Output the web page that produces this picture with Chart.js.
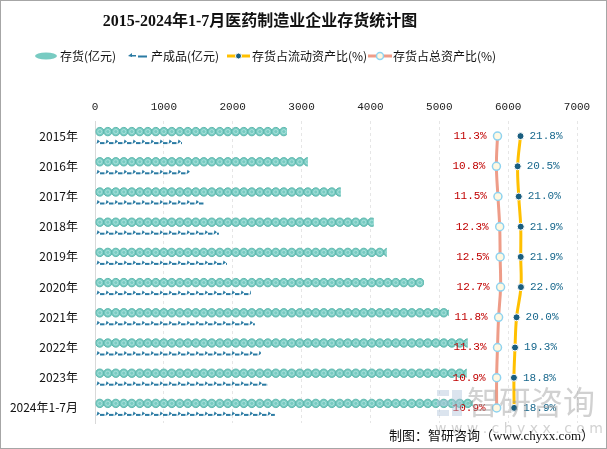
<!DOCTYPE html>
<html>
<head>
<meta charset="utf-8">
<script src="https://cdn.jsdelivr.net/npm/chart.js@4.4.1/dist/chart.umd.min.js"></script>
<style>
  html, body { margin: 0; padding: 0; background: #fff; }
  #wrap { width: 605px; height: 447px; border: 1px solid #a6a6a6; position: relative; }
</style>
</head>
<body>
<div id="wrap"><canvas id="chart"></canvas></div>
<script>
// ---------------------------------------------------------------- dados
const years = ["2015年", "2016年", "2017年", "2018年", "2019年", "2020年", "2021年", "2022年", "2023年", "2024年1-7月"];
const inventory = [2787, 3091, 3570, 4049, 4238, 4775, 5138, 5413, 5399, 5486];      // 存货(亿元)
const finished = [1263, 1379, 1582, 1800, 1916, 2264, 2322, 2409, 2511, 2612];       // 产成品(亿元)
const pctCurrent = [21.8, 20.5, 21.0, 21.9, 21.9, 22.0, 20.0, 19.3, 18.8, 18.9];     // 存货占流动资产比(%)
const pctTotal = [11.3, 10.8, 11.5, 12.3, 12.5, 12.7, 11.8, 11.3, 10.9, 10.9];       // 存货占总资产比(%)
const xTicks = [0, 1000, 2000, 3000, 4000, 5000, 6000, 7000];

const COLORS = {
  coin: "#78CBC2",
  coinEdge: "#5CB6AC",
  coinInner: "#A9E1DB",
  product: "#2B7BA3",
  yellow: "#FFC000",
  pink: "#EE9C88",
  dot: "#1A5E80",
  ring: "#8FD3F0",
  cream: "#FFF8E1",
  red: "#C00000",
  blue: "#17678C",
};

const FONT_CJK = '"Noto Sans CJK SC", "Noto Sans", sans-serif';

// --------------------------------------------------------------- desenho
function drawCoin(ctx, cx, cy, r) {
  ctx.beginPath();
  ctx.arc(cx, cy, r, 0, Math.PI * 2);
  ctx.fillStyle = COLORS.coin;
  ctx.fill();
  ctx.lineWidth = 1;
  ctx.strokeStyle = COLORS.coinEdge;
  ctx.stroke();
  ctx.beginPath();
  ctx.arc(cx, cy, r * 0.5, 0, Math.PI * 2);
  ctx.strokeStyle = COLORS.coinInner;
  ctx.stroke();
}

function drawProduct(ctx, x, y0) {
  ctx.fillStyle = COLORS.product;
  ctx.beginPath();
  ctx.moveTo(x, y0 + 4.5);
  ctx.lineTo(x + 1, y0);
  ctx.lineTo(x + 3.5, y0 + 2);
  ctx.closePath();
  ctx.fill();
  ctx.fillRect(x + 3.5, y0 + 2.5, 4.5, 2);
}

const pictorial = {
  id: "pictorial",
  afterDatasetsDraw(chart) {
    const ctx = chart.ctx;
    chart.getDatasetMeta(0).data.forEach((bar) => {
      const { x, y, base, height } = bar.getProps(["x", "y", "base", "height"], true);
      ctx.save();
      ctx.beginPath();
      ctx.rect(base, y - height / 2 - 1, x - base, height + 2);
      ctx.clip();
      for (let cx = base + 4.3; cx - 4.3 < x; cx += 8) drawCoin(ctx, cx, y, 4.2);
      ctx.restore();
    });
    chart.getDatasetMeta(1).data.forEach((bar) => {
      const { x, y, base, height } = bar.getProps(["x", "y", "base", "height"], true);
      const top = y - height / 2;
      ctx.save();
      ctx.beginPath();
      ctx.rect(base, top, x - base, height);
      ctx.clip();
      for (let px = base + 1; px < x; px += 9) drawProduct(ctx, px, top + 3.5);
      ctx.restore();
    });

    // rótulos das linhas
    ctx.save();
    ctx.font = '11px "Liberation Mono", monospace';
    ctx.textBaseline = "middle";
    chart.getDatasetMeta(2).data.forEach((pt, i) => {
      ctx.fillStyle = COLORS.blue;
      ctx.textAlign = "left";
      ctx.fillText(pctCurrent[i].toFixed(1) + "%", pt.x + 9, pt.y);
    });
    chart.getDatasetMeta(3).data.forEach((pt, i) => {
      ctx.fillStyle = COLORS.red;
      ctx.textAlign = "right";
      ctx.fillText(pctTotal[i].toFixed(1) + "%", pt.x - 11, pt.y);
    });
    ctx.restore();
  },
};

// título, legenda, marca d'água e rodapé
const header = {
  id: "header",
  afterDraw(chart) {
    const ctx = chart.ctx;
    ctx.save();
    ctx.fillStyle = "#111";
    ctx.textAlign = "center";
    ctx.textBaseline = "middle";
    ctx.font = 'bold 16px "Liberation Serif", ' + FONT_CJK;
    ctx.fillText("2015-2024年1-7月医药制造业企业存货统计图", 259, 21);

    // legenda
    const ly = 55;
    ctx.font = "12px " + FONT_CJK;
    ctx.textAlign = "left";
    // 存货
    ctx.beginPath();
    ctx.ellipse(45, ly, 11, 3.5, 0, 0, Math.PI * 2);
    ctx.fillStyle = COLORS.coin;
    ctx.fill();
    ctx.fillStyle = "#111";
    ctx.fillText("存货(亿元)", 59, ly);
    // 产成品
    ctx.fillStyle = COLORS.product;
    ctx.beginPath();
    ctx.moveTo(127, ly);
    ctx.lineTo(131, ly - 3);
    ctx.lineTo(131, ly + 1);
    ctx.closePath();
    ctx.fill();
    ctx.fillRect(130, ly - 1, 5, 1.5);
    ctx.fillRect(137, ly - 0.5, 9, 2);
    ctx.fillStyle = "#111";
    ctx.fillText("产成品(亿元)", 150, ly);
    // 存货占流动资产比
    ctx.strokeStyle = COLORS.yellow;
    ctx.lineWidth = 3;
    ctx.beginPath();
    ctx.moveTo(226, ly);
    ctx.lineTo(249, ly);
    ctx.stroke();
    ctx.beginPath();
    ctx.arc(237.5, ly, 3, 0, Math.PI * 2);
    ctx.fillStyle = COLORS.dot;
    ctx.fill();
    ctx.lineWidth = 1;
    ctx.strokeStyle = "#fff";
    ctx.stroke();
    ctx.fillStyle = "#111";
    ctx.fillText("存货占流动资产比(%)", 251, ly);
    // 存货占总资产比
    ctx.strokeStyle = COLORS.pink;
    ctx.lineWidth = 3;
    ctx.beginPath();
    ctx.moveTo(367, ly);
    ctx.lineTo(391, ly);
    ctx.stroke();
    ctx.beginPath();
    ctx.arc(379, ly, 3.5, 0, Math.PI * 2);
    ctx.fillStyle = COLORS.cream;
    ctx.fill();
    ctx.lineWidth = 1.5;
    ctx.strokeStyle = COLORS.ring;
    ctx.stroke();
    ctx.fillStyle = "#111";
    ctx.fillText("存货占总资产比(%)", 392, ly);

    // marca d'água
    ctx.globalAlpha = 0.45;
    ctx.fillStyle = "#AFC3D9";
    ctx.fillRect(436, 389, 12, 6);
    ctx.fillRect(436, 399, 12, 6);
    ctx.fillRect(436, 409, 12, 6);
    ctx.fillRect(451, 389, 10, 26);
    ctx.fillStyle = "#9a9a9a";
    ctx.font = "32px " + FONT_CJK;
    ctx.fillText("智研咨询", 466, 401);
    ctx.font = '14px "DejaVu Sans", sans-serif';
    ctx.fillText("w w w . c h y x x . c o m", 434, 428);
    ctx.globalAlpha = 1;

    // rodapé
    ctx.fillStyle = "#111";
    ctx.textAlign = "right";
    ctx.font = '13px "Liberation Serif", ' + FONT_CJK;
    ctx.fillText("制图：智研咨询（www.chyxx.com）", 593, 436);
    ctx.restore();
  },
};

// --------------------------------------------------------------- gráfico
new Chart(document.getElementById("chart"), {
  type: "bar",
  data: {
    labels: years,
    datasets: [
      { label: "存货(亿元)", data: inventory, backgroundColor: "rgba(0,0,0,0)", barThickness: 9, xAxisID: "x" },
      { label: "产成品(亿元)", data: finished, backgroundColor: "rgba(0,0,0,0)", barThickness: 9, xAxisID: "x" },
      {
        type: "line", label: "存货占流动资产比(%)", data: pctCurrent, indexAxis: "y", xAxisID: "x2",
        borderColor: COLORS.yellow, borderWidth: 3, tension: 0.4,
        pointRadius: 3.5, pointBackgroundColor: COLORS.dot, pointBorderColor: "#fff", pointBorderWidth: 1,
      },
      {
        type: "line", label: "存货占总资产比(%)", data: pctTotal, indexAxis: "y", xAxisID: "x2",
        borderColor: COLORS.pink, borderWidth: 3, tension: 0.4,
        pointRadius: 4, pointBackgroundColor: COLORS.cream, pointBorderColor: COLORS.ring, pointBorderWidth: 1.5,
      },
    ],
  },
  options: {
    indexAxis: "y",
    responsive: true, maintainAspectRatio: false, animation: false,
    layout: { padding: { top: 70, right: 29, bottom: 25, left: 0 } },
    plugins: { legend: { display: false }, title: { display: false }, tooltip: { enabled: false } },
    scales: {
      x: {
        position: "top", min: 0, max: 7000,
        afterBuildTicks: (s) => { s.ticks = xTicks.map((v) => ({ value: v })); },
        afterFit: (s) => { s.height = 50; },
        ticks: {
          font: { family: "Liberation Mono", size: 11 }, color: "#222", padding: 7, maxRotation: 0,
          callback: (v) => String(v),
        },
        grid: { color: "#e6e6e6", drawTicks: false },
        border: { display: false, dash: [3, 3] },
      },
      x2: { type: "linear", position: "top", min: -172.5, max: 47.6, display: false },
      y: {
        afterFit: (s) => { s.width = 94; },
        grid: { display: false },
        border: { display: true, color: "#d9d9d9" },
        ticks: { font: { family: "Noto Sans CJK SC", size: 12 }, color: "#111", padding: 9 },
      },
    },
  },
  plugins: [pictorial, header],
});
</script>
</body>
</html>
